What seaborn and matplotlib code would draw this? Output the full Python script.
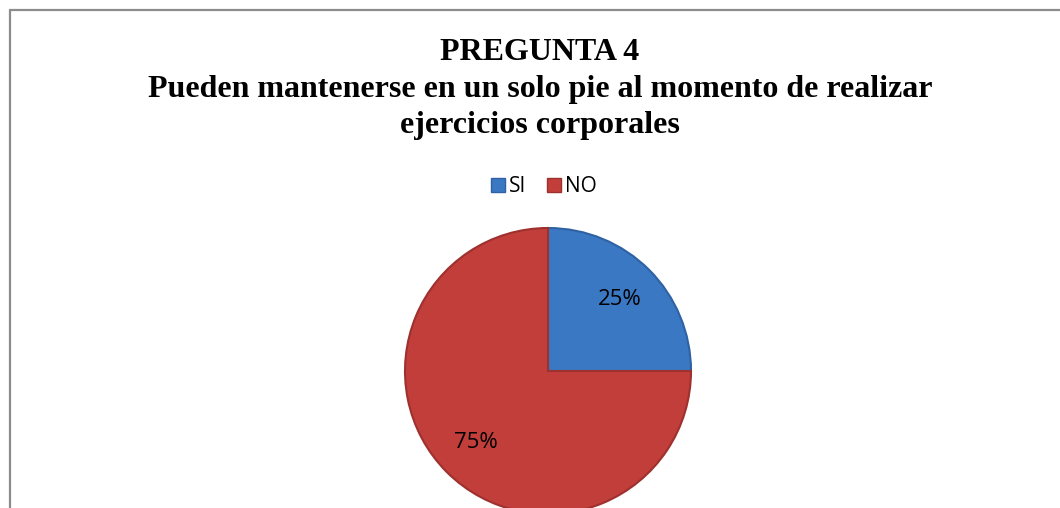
import matplotlib
matplotlib.use("Agg")
import matplotlib.pyplot as plt
from matplotlib.lines import Line2D
import seaborn as sns

categories = ["SI", "NO"]
values = [25, 75]
title_lines = ["PREGUNTA 4",
               "Pueden mantenerse en un solo pie al momento de realizar",
               "ejercicios corporales"]

sns.set_theme(style="white")
plt.rcParams["text.color"] = "black"
colors = ["#3B78C3", "#C13E3B"]
edge_colors = ["#2E62A3", "#9E302E"]

W, H = 1060, 508
fig = plt.figure(figsize=(W / 100, H / 100), dpi=100)
fig.patch.set_facecolor("white")

# pie axes: center (548, 371) px, radius 143 px
cx, cy, r = 548, 371, 143
ax = fig.add_axes([(cx - r) / W, 1 - (cy + r) / H, 2 * r / W, 2 * r / H])
wedges, texts, autotexts = ax.pie(
    values, colors=colors, startangle=90, counterclock=False,
    autopct="%1.0f%%", pctdistance=0.71, radius=1.0,
    wedgeprops=dict(linewidth=1.5),
    textprops=dict(fontsize=16, color="black", family=["Open Sans", "DejaVu Sans"]))
for w, ec in zip(wedges, edge_colors):
    w.set_edgecolor(ec)
ax.set_xlim(-1.0, 1.0)
ax.set_ylim(-1.0, 1.0)
ax.set_aspect("equal")
ax.axis("off")

# title
serif = ["Liberation Serif", "DejaVu Serif"]
for txt, ypx in zip(title_lines, [60, 97, 133]):
    fig.text(540 / W, 1 - ypx / H, txt, ha="center", va="baseline", color="black",
             fontsize=23, fontweight="bold", family=serif)

# legend
handles = [Line2D([0], [0], marker="s", linestyle="", markersize=9.5,
                  markerfacecolor=c, markeredgecolor=ec)
           for c, ec in zip(colors, edge_colors)]
leg = fig.legend(handles, categories, loc="center", bbox_to_anchor=(543 / W, 1 - 187 / H),
                 ncol=2, frameon=False, handletextpad=0.15, columnspacing=0.9,
                 handlelength=0.8, prop=dict(family=["Open Sans", "DejaVu Sans"], size=15))
for t in leg.get_texts():
    t.set_color("black")

# border (top and left visible)
fig.add_artist(Line2D([9.5 / W, 9.5 / W], [0, 1 - 10 / H], transform=fig.transFigure,
                      color="#8C8C8C", linewidth=1.6))
fig.add_artist(Line2D([9.5 / W, 1], [1 - 10 / H, 1 - 10 / H], transform=fig.transFigure,
                      color="#8C8C8C", linewidth=1.6))

fig.savefig("out.png", dpi=100)
